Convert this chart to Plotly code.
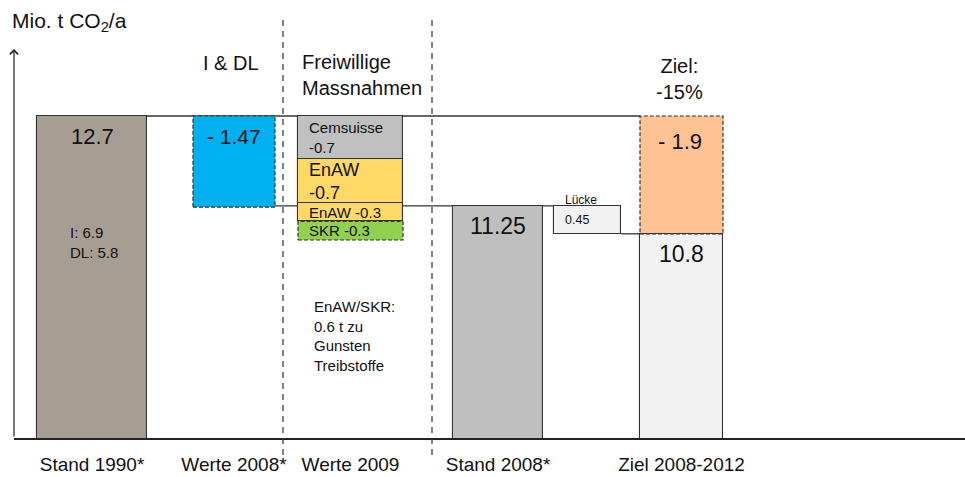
import plotly.graph_objects as go

# ---------------- data ----------------
categories = ["Stand 1990*", "Werte 2008*", "Werte 2009", "Stand 2008*", "Ziel 2008-2012"]
stand_1990 = 12.7
split_1990_labels = ["I", "DL"]
split_1990_values = [6.9, 5.8]
werte_2008 = -1.47
werte_2009_names = ["Cemsuisse", "EnAW", "EnAW", "SKR"]
werte_2009_values = [-0.7, -0.7, -0.3, -0.3]
stand_2008 = 11.25
luecke = 0.45
ziel_reduction = -1.9
ziel = 10.8
ziel_pct = -15
enaw_skr_fuel = 0.6

# ---------------- layout constants ----------------
FONT = "Liberation Sans, Arial, sans-serif"
TXT = "#111111"
EDGE = "#333333"
W, H = 965, 477
ML, MB = 14, 39
PW, PH = W - ML, H - MB
X_RANGE = [0, PW / 100]
Y_RANGE = [7.507, 14.571]

# slot centres / widths in x-axis units
X_1990, W_1990 = 0.78, 1.10
X_W08, W_W08 = 2.20, 0.82
X_W09, W_W09 = 3.365, 1.05
X_S08, W_S08 = 4.84, 0.90
X_GAP, W_GAP = 5.735, 0.67
X_Z, W_Z = 6.675, 0.83
DIVIDERS = [2.69, 4.18]

C_1990 = "#A69E93"
C_BLUE = "#00B0F0"
C_W09 = ["#C0C0C0", "#FFD966", "#FFD966", "#92D050"]
D_W09 = [False, False, False, True]
F_W09 = [15, 18, 15, 15]
SEP_W09 = ["<br>", "<br>", " ", " "]
C_S08 = "#BFBFBF"
C_GAP = "#F2F2F2"
C_ORANGE = "#FFC293"
C_ZIEL = "#F2F2F2"
BOX_DASH = "4px,2px"
DIV_DASH = "6px,5px"


def py(p):
    return 1 - p / PH


def px(p):
    return (p - ML) / PW


fig = go.Figure()


def box(x, w, lo, hi, fill, dash=False):
    fig.add_trace(go.Bar(
        x=[x], y=[hi - lo], base=[lo], width=[w],
        marker=dict(color=fill, line=dict(color=EDGE, width=0 if dash else 1.1)),
        hoverinfo="skip", showlegend=False))
    if dash:
        fig.add_trace(go.Scatter(
            x=[x - w / 2, x + w / 2, x + w / 2, x - w / 2, x - w / 2],
            y=[lo, lo, hi, hi, lo], mode="lines",
            line=dict(color=EDGE, width=1.2, dash=BOX_DASH),
            hoverinfo="skip", showlegend=False))


def note(text, x, y, size, xref="x", yref="y", xanchor="center", yanchor="middle",
         xshift=0, yshift=0, align="left"):
    fig.add_annotation(text=text, x=x, y=y, xref=xref, yref=yref, showarrow=False,
                       xanchor=xanchor, yanchor=yanchor, xshift=xshift, yshift=yshift,
                       align=align, font=dict(family=FONT, size=size, color=TXT))


# bars
box(X_1990, W_1990, 0, stand_1990, C_1990)
box(X_W08, W_W08, stand_1990 + werte_2008, stand_1990, C_BLUE, dash=True)
top = stand_1990
w09_boxes = []
for v, c, d in zip(werte_2009_values, C_W09, D_W09):
    box(X_W09, W_W09, top + v, top, c, dash=d)
    w09_boxes.append((top + v, top))
    top = top + v
box(X_S08, W_S08, 0, stand_2008, C_S08)
box(X_GAP, W_GAP, stand_2008 - luecke, stand_2008, C_GAP)
box(X_Z, W_Z, stand_1990 + ziel_reduction, stand_1990, C_ORANGE, dash=True)
box(X_Z, W_Z, 0, ziel, C_ZIEL)

# connector lines
conn = dict(color=EDGE, width=1.3)
fig.add_shape(type="line", layer="below", xref="x", yref="y",
              x0=X_1990 + W_1990 / 2, x1=X_Z - W_Z / 2, y0=stand_1990, y1=stand_1990, line=conn)
fig.add_shape(type="line", layer="below", xref="x", yref="y",
              x0=X_W08 + W_W08 / 2, x1=X_GAP - W_GAP / 2, y0=stand_2008, y1=stand_2008, line=conn)
fig.add_shape(type="line", layer="below", xref="x", yref="y",
              x0=X_GAP + W_GAP / 2, x1=X_Z - W_Z / 2, y0=ziel, y1=ziel, line=conn)

# dashed dividers
for d in DIVIDERS:
    xp = (d - X_RANGE[0]) / (X_RANGE[1] - X_RANGE[0])
    fig.add_shape(type="line", xref="paper", yref="paper", x0=xp, x1=xp,
                  y0=py(455), y1=py(17), line=dict(color=EDGE, width=1.2, dash=DIV_DASH))

# y axis arrow
fig.add_annotation(x=0, y=py(49), xref="paper", yref="paper", ax=0, ay=PH - 49,
                   axref="pixel", ayref="pixel", text="", showarrow=True,
                   arrowhead=4, arrowsize=1.3, arrowwidth=1.2, arrowcolor="#222222")

# texts
note("Mio. t CO<sub>2</sub>/a", px(10), py(22), 21, "paper", "paper", xanchor="left")
note("I & DL", X_W08, py(63), 20, yref="paper", xshift=-3)
note("Freiwillige<br>Massnahmen", px(300), py(75), 20, "paper", "paper", xanchor="left")
note(f"Ziel:<br>{ziel_pct}%", X_Z, py(79), 20, yref="paper", align="center", xshift=-2)

note(f"{stand_1990}", X_1990, stand_1990, 22, yshift=-20)
note("<br>".join(f"{l}: {v}" for l, v in zip(split_1990_labels, split_1990_values)),
     X_1990 - W_1990 / 2, stand_1990, 15, xanchor="left", xshift=31, yshift=-126)
note(f"- {abs(werte_2008):.2f}", X_W08, stand_1990, 21, yshift=-20)
for (lo, hi), n, v, s, f in zip(w09_boxes, werte_2009_names, werte_2009_values, SEP_W09, F_W09):
    note(f"{n}{s}{v:.1f}", X_W09 - W_W09 / 2, (lo + hi) / 2, f, xanchor="left", xshift=9)
note(f"EnAW/SKR:<br>{enaw_skr_fuel} t zu<br>Gunsten<br>Treibstoffe",
     X_W09 - W_W09 / 2, stand_2008, 15, xanchor="left", xshift=14, yshift=-130)
note(f"{stand_2008}", X_S08, stand_2008, 23, yshift=-20)
note("Lücke", X_GAP - W_GAP / 2, stand_2008, 12, xanchor="left", xshift=9, yshift=6)
note(f"{luecke}", X_GAP - W_GAP / 2, stand_2008 - luecke / 2, 12.5, xanchor="left", xshift=9)
note(f"- {abs(ziel_reduction):.1f}", X_Z, stand_1990, 22, yshift=-25, xshift=-2)
note(f"{ziel}", X_Z, ziel, 23, yshift=-20)

fig.update_layout(
    width=W, height=H, autosize=False,
    margin=dict(l=ML, r=0, t=0, b=MB, pad=0),
    plot_bgcolor="white", paper_bgcolor="white",
    barmode="overlay", bargap=0,
    font=dict(family=FONT, color=TXT),
    xaxis=dict(range=X_RANGE, showgrid=False, zeroline=False, showline=True,
               linecolor="#222222", linewidth=2, ticks="",
               tickvals=[X_1990, X_W08, X_W09, X_S08, X_Z], ticktext=categories,
               tickfont=dict(family=FONT, size=19, color=TXT), ticklabelstandoff=8),
    yaxis=dict(range=Y_RANGE, showgrid=False, zeroline=False, showline=False,
               showticklabels=False, ticks=""),
)

fig.write_html("out.html", config={"displayModeBar": False},
               post_script="document.body.style.margin='0px';")
